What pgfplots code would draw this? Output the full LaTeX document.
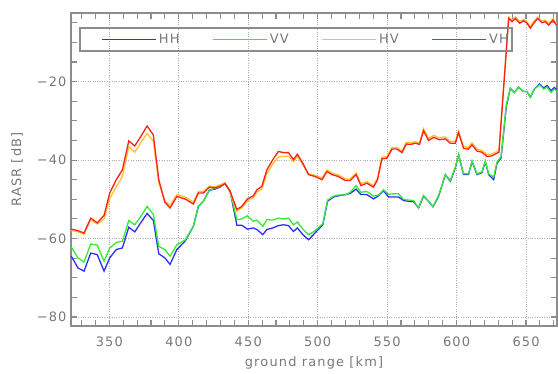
\documentclass[border=0pt]{standalone}
\usepackage{pgfplots}
\pgfplotsset{compat=1.18}
\usepackage{fontspec}
\setmainfont{DejaVu Sans}[LetterSpace=9]
\definecolor{txtgray}{RGB}{120,120,120}
\definecolor{axgray}{RGB}{140,140,140}
\definecolor{gridgray}{RGB}{175,175,175}
\definecolor{cHH}{RGB}{45,45,255}
\definecolor{cVV}{RGB}{50,235,50}
\definecolor{cHV}{RGB}{255,195,40}
\definecolor{cVH}{RGB}{255,30,30}
\pgfplotsset{
  mylegimg/.style={legend image code/.code={%
    \path (0bp,0bp) -- (9bp,0bp);
    \draw[##1, line width=1.3pt, draw opacity=1] (9bp,0bp) -- (63bp,0bp);}},
}
\begin{document}
\fontsize{13}{15}\selectfont
\begin{tikzpicture}
\begin{axis}[name=ax, scale only axis, width=486bp, height=313bp,
  xmin=322.4, xmax=672.3, ymin=-82.3, ymax=-2.5,
  xtick={350,400,...,650}, xticklabels={350,400,450,500,550,600,650},
  ytick={-80,-60,-40,-20}, yticklabels={−80,−60,−40,−20},
  minor xtick={330,340,...,670}, minor ytick={-80,-75,...,-5},
  tick align=inside, major tick length=6bp, minor tick length=6bp,
  tick style={axgray, line width=1.1pt},
  axis line style={axgray, line width=1.4pt},
  xmajorgrids, ymajorgrids, major grid style={gridgray, dotted, line width=0.8pt},
  tick label style={text=txtgray, font=\fontsize{13}{15}\selectfont},
  xticklabel style={yshift=-6bp},
  label style={text=txtgray, font=\fontsize{13}{15}\selectfont},
  xlabel={ground range [km]}, ylabel={RASR [dB]},
  xlabel style={at={(axis description cs:0.5,-0.118)}, anchor=center},
  ylabel style={at={(axis description cs:-0.111,0.5)}, anchor=center},
  legend columns=4,
  legend style={at={(axis description cs:0.0432,0.9153)}, anchor=west,
    draw=axgray, draw opacity=0, fill=none, line width=1.3pt, text=txtgray,
    font=\fontsize{13}{15}\selectfont, inner xsep=0bp, inner ysep=3.5bp,
    nodes={inner sep=2bp},
    /tikz/every odd column/.append style={column sep=0bp},
    /tikz/every even column/.append style={column sep=22bp}},
  mylegimg,
  every axis plot/.append style={line width=1.3pt, no marks},
]
\addplot[cHH] table {
322.6 -64.5
327.4 -67.5
331.8 -68.3
336.6 -63.7
341.3 -64.1
346.2 -68.3
350.3 -64.9
355.0 -62.8
359.4 -62.4
364.0 -57.1
368.3 -58.3
372.6 -56.0
377.2 -53.6
381.7 -55.4
385.6 -63.9
389.9 -64.9
393.7 -66.6
398.6 -62.8
404.5 -60.7
410.5 -56.9
414.1 -51.8
417.7 -50.5
422.0 -47.7
426.1 -47.4
429.7 -46.9
433.3 -45.9
437.0 -48.0
441.8 -56.6
445.4 -56.6
449.4 -57.6
453.7 -57.3
456.2 -57.7
460.5 -59.0
463.4 -57.7
467.7 -57.3
471.7 -56.7
475.4 -56.5
479.0 -56.7
482.6 -58.2
485.4 -57.3
489.3 -59.0
493.4 -60.3
497.0 -59.0
500.6 -57.6
503.7 -56.5
507.1 -50.5
511.4 -49.4
515.0 -49.1
519.8 -48.8
523.4 -48.5
527.7 -47.4
531.1 -48.8
535.4 -48.8
540.2 -49.9
543.8 -49.1
547.4 -47.8
551.0 -49.4
554.6 -49.4
558.2 -49.4
561.8 -50.3
565.4 -50.5
569.0 -50.6
572.6 -52.2
576.2 -49.2
579.8 -50.5
583.0 -51.9
587.0 -49.3
591.9 -43.7
595.5 -45.4
599.1 -42.0
601.4 -38.6
605.0 -43.7
608.6 -43.7
611.1 -40.4
614.7 -43.7
618.3 -43.2
620.7 -40.4
623.1 -43.7
626.7 -45.0
629.1 -40.8
632.0 -39.5
635.8 -26.4
638.7 -21.7
641.6 -22.8
644.7 -21.4
647.9 -22.5
650.7 -22.5
653.1 -24.0
656.0 -21.9
659.8 -20.6
662.7 -21.6
665.1 -21.0
668.0 -22.3
670.4 -21.5
672.5 -22.2
};
\addlegendentry{HH}
\addplot[cVV] table {
322.6 -62.2
327.4 -64.9
331.8 -66.0
336.6 -61.4
341.3 -61.7
346.2 -65.8
350.3 -62.4
355.0 -61.0
359.4 -60.7
364.0 -55.4
368.3 -56.5
372.6 -54.4
377.2 -51.8
381.7 -53.9
385.6 -62.0
389.9 -62.8
393.7 -64.5
398.6 -61.6
404.5 -60.4
410.5 -56.9
414.1 -51.7
417.7 -50.5
422.0 -47.6
426.1 -47.2
429.7 -46.8
433.3 -46.0
437.0 -48.0
441.8 -55.2
445.4 -55.0
449.4 -54.2
453.7 -55.6
456.2 -55.3
460.5 -56.9
463.4 -55.2
467.7 -55.3
471.7 -54.8
475.4 -55.0
479.0 -54.8
482.6 -56.5
485.4 -55.8
489.3 -57.6
493.4 -59.0
497.0 -58.3
500.6 -57.2
503.7 -56.2
507.1 -50.2
511.4 -49.2
515.0 -48.9
519.8 -48.9
523.4 -48.2
527.7 -46.5
531.1 -48.2
535.4 -48.0
540.2 -49.2
543.8 -48.9
547.4 -47.6
551.0 -48.7
554.6 -48.6
558.2 -48.6
561.8 -50.0
565.4 -50.2
569.0 -50.3
572.6 -52.2
576.2 -49.0
579.8 -50.5
583.0 -51.8
587.0 -49.1
591.9 -43.7
595.5 -45.2
599.1 -41.8
601.4 -38.6
605.0 -43.5
608.6 -43.5
611.1 -40.2
614.7 -43.5
618.3 -43.0
620.7 -40.2
623.1 -43.5
626.7 -44.3
629.1 -40.5
632.0 -39.1
635.8 -25.9
638.7 -21.7
641.6 -22.8
644.7 -21.4
647.9 -22.5
650.7 -22.5
653.1 -24.0
656.0 -21.9
659.8 -20.8
662.7 -21.9
665.1 -21.4
668.0 -22.8
670.4 -21.9
672.5 -22.5
};
\addlegendentry{VV}
\addplot[cHV] table {
322.6 -57.9
327.4 -58.3
331.8 -58.9
336.6 -55.2
341.3 -56.3
346.2 -55.0
350.3 -49.8
355.0 -46.8
359.4 -44.2
364.0 -36.6
368.3 -38.0
372.6 -35.6
377.2 -33.2
381.7 -35.2
385.6 -45.8
389.9 -50.3
393.7 -51.6
398.6 -48.8
404.5 -49.4
410.5 -50.7
414.1 -48.0
417.7 -48.0
422.0 -46.6
426.1 -46.8
429.7 -46.3
433.3 -45.8
437.0 -48.4
441.8 -53.0
445.4 -52.2
449.4 -50.4
453.7 -49.5
456.2 -48.2
459.8 -47.4
463.4 -43.5
467.7 -41.0
471.7 -39.2
475.4 -39.0
479.0 -39.0
482.6 -40.4
485.4 -39.0
489.3 -41.2
493.4 -43.5
498.2 -43.9
503.1 -44.6
506.7 -42.5
510.3 -43.3
515.0 -43.8
519.8 -44.8
523.4 -44.8
527.7 -43.3
531.1 -46.0
535.4 -45.5
540.2 -46.5
543.1 -44.6
546.2 -39.3
549.9 -39.1
553.5 -36.8
557.1 -36.8
560.7 -37.7
563.8 -35.5
567.1 -35.6
570.2 -35.3
573.3 -35.6
576.2 -32.0
579.8 -34.5
583.5 -33.7
587.5 -34.3
591.9 -34.1
595.5 -35.2
599.1 -35.2
601.4 -32.6
605.0 -36.5
608.6 -36.7
611.1 -35.6
614.7 -37.2
618.3 -37.5
621.9 -38.6
625.5 -38.4
630.5 -37.6
637.5 -3.5
640.0 -4.3
642.3 -3.5
645.4 -4.7
648.3 -4.1
650.7 -4.7
653.1 -6.0
655.5 -4.7
658.4 -3.5
661.5 -4.6
663.9 -4.3
666.3 -5.2
669.4 -3.9
671.8 -5.2
};
\addlegendentry{HV}
\addplot[cVH] table {
322.6 -57.6
327.4 -58.0
331.8 -58.6
336.6 -54.8
341.3 -56.0
346.2 -54.1
350.3 -48.4
355.0 -45.0
359.4 -42.5
364.0 -35.1
368.3 -36.4
372.6 -34.0
377.2 -31.3
381.7 -33.6
385.6 -45.0
389.9 -50.7
393.7 -52.2
398.6 -49.3
404.5 -49.9
410.5 -51.2
414.1 -48.4
417.7 -48.4
422.0 -46.9
426.1 -47.1
429.7 -46.7
433.3 -46.0
437.0 -48.0
441.8 -52.6
445.4 -51.8
449.4 -49.9
453.7 -49.1
456.2 -47.6
459.8 -46.7
463.4 -42.5
467.7 -39.9
471.7 -37.8
475.4 -38.1
479.0 -38.1
482.6 -39.9
485.4 -38.5
489.3 -40.8
493.4 -43.7
498.2 -44.2
503.1 -45.0
506.7 -42.9
510.3 -43.7
515.0 -44.2
519.8 -45.2
523.4 -45.2
527.7 -43.7
531.1 -46.5
535.4 -45.9
540.2 -46.9
543.1 -45.0
546.2 -39.7
549.9 -39.5
553.5 -37.2
557.1 -37.2
560.7 -38.1
563.8 -35.9
567.1 -36.0
570.2 -35.7
573.3 -36.0
576.2 -32.5
579.8 -35.0
583.5 -34.2
587.5 -34.8
591.9 -34.6
595.5 -35.7
599.1 -35.7
601.4 -33.0
605.0 -37.0
608.6 -37.2
611.1 -36.1
614.7 -37.7
618.3 -38.0
621.9 -39.1
625.5 -38.9
630.5 -38.0
637.5 -3.9
640.0 -4.7
642.3 -3.9
645.4 -5.1
648.3 -4.5
650.7 -5.1
653.1 -6.4
655.5 -5.1
658.4 -3.9
661.5 -5.0
663.9 -4.7
666.3 -5.6
669.4 -4.3
671.8 -5.6
};
\addlegendentry{VH}
\draw[axgray, line width=1.3pt] (axis description cs:0.0185,0.952) rectangle (axis description cs:0.9074,0.8786);
\end{axis}
\pgfresetboundingbox
\path[use as bounding box] ([shift={(-71bp,-48bp)}]ax.south west) rectangle ([shift={(1bp,13bp)}]ax.north east);
\end{tikzpicture}
\end{document}
